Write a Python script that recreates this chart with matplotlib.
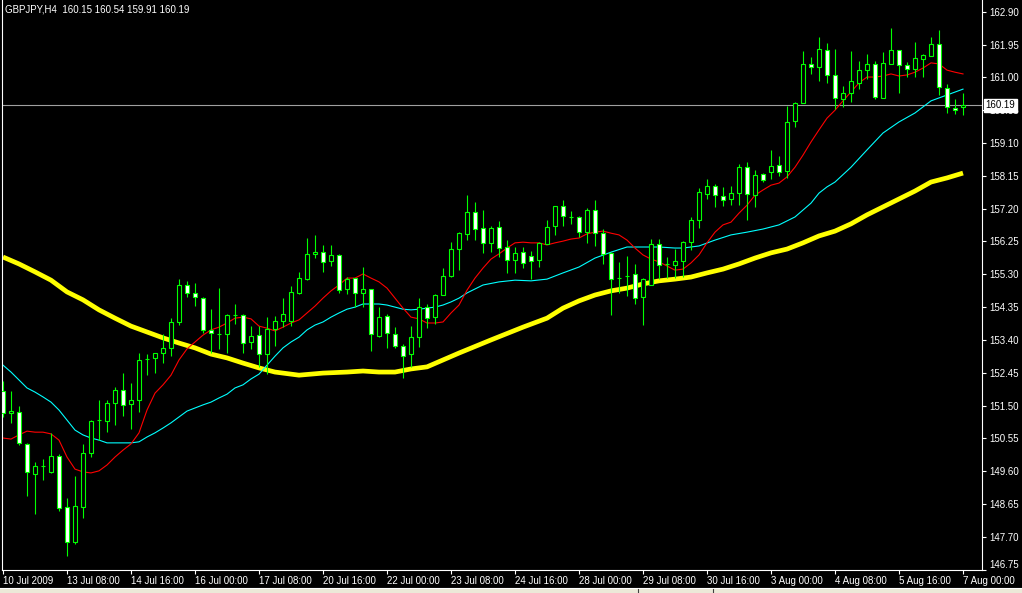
import matplotlib
matplotlib.use('Agg')
import matplotlib.pyplot as plt
from matplotlib.patches import Rectangle

plt.rcParams['font.family'] = ['Liberation Sans', 'DejaVu Sans']

# GBPJPY H4 candles (bar 0 = 10 Jul 2009)
opens = [151.92, 151.28, 151.31, 150.39, 149.52, 149.75, 149.58, 150.04, 148.56, 147.55,
         148.56, 150.13, 151.08, 151.05, 151.57, 151.95, 151.55, 151.66, 152.85, 152.88,
         153.02, 153.17, 153.92, 154.99, 154.76, 154.61, 153.69, 153.57, 153.57, 154.12,
         154.12, 153.34, 153.54, 152.99, 153.72, 153.95, 153.95, 154.76, 155.16, 155.89,
         155.94, 155.68, 155.86, 154.87, 155.19, 154.76, 154.87, 153.51, 154.09, 153.57,
         153.22, 152.99, 153.48, 154.35, 154.06, 154.70, 155.25, 156.03, 156.47, 157.10,
         156.64, 156.21, 156.67, 156.09, 155.71, 155.94, 155.83, 155.71, 156.18, 156.70,
         157.28, 156.96, 156.96, 156.52, 157.16, 156.49, 155.92, 155.19, 155.25, 155.31,
         154.64, 154.99, 156.18, 155.60, 155.57, 155.68, 156.23, 156.87, 157.62, 157.86,
         157.57, 157.48, 157.65, 158.40, 157.59, 158.20, 158.26, 158.46, 158.29, 159.74,
         160.26, 161.39, 161.30, 161.79, 161.07, 160.37, 160.55, 160.84, 161.21, 161.39,
         160.40, 161.39, 161.79, 161.36, 161.24, 161.53, 161.62, 161.97, 160.69, 160.11,
         160.15]
highs = [152.21, 151.92, 151.49, 150.42, 149.87, 149.95, 150.71, 150.10, 148.82, 149.46,
         150.39, 151.08, 151.66, 151.66, 152.04, 152.44, 152.15, 153.02, 152.99, 153.03,
         153.57, 154.03, 155.16, 155.11, 155.05, 154.64, 154.29, 154.90, 154.15, 154.44,
         154.15, 153.80, 153.80, 154.06, 154.09, 154.61, 154.96, 155.37, 156.35, 156.44,
         156.15, 156.15, 155.89, 155.22, 155.20, 155.51, 154.88, 154.35, 154.15, 153.77,
         153.28, 153.80, 154.61, 154.44, 154.73, 155.48, 156.23, 156.52, 157.59, 157.39,
         157.16, 156.70, 156.84, 156.29, 156.09, 156.09, 155.97, 156.23, 156.87, 157.28,
         157.45, 157.13, 156.99, 157.22, 157.45, 156.61, 155.94, 155.66, 155.83, 155.60,
         155.19, 156.32, 156.32, 155.80, 156.03, 156.26, 156.96, 157.80, 158.06, 157.91,
         157.83, 157.86, 158.49, 158.55, 158.32, 158.23, 158.90, 158.72, 160.17, 160.29,
         161.76, 161.59, 162.17, 161.99, 161.82, 160.75, 161.76, 161.47, 161.68, 161.47,
         161.73, 162.43, 161.80, 161.44, 162.02, 161.68, 162.17, 162.37, 160.81, 160.37,
         160.54]
lows = [151.17, 151.00, 150.36, 148.88, 148.36, 149.35, 149.56, 148.45, 147.15, 147.49,
        148.25, 150.01, 150.50, 150.73, 150.94, 151.20, 150.82, 151.31, 152.38, 152.44,
        152.73, 152.93, 153.83, 154.64, 154.38, 153.60, 153.02, 153.14, 153.02, 153.86,
        153.02, 153.14, 152.62, 152.41, 153.22, 153.77, 153.80, 154.74, 155.13, 155.77,
        155.37, 155.54, 154.76, 154.73, 154.35, 154.35, 153.08, 153.48, 153.17, 153.17,
        152.30, 152.62, 153.19, 153.74, 153.86, 154.69, 155.22, 155.42, 156.29, 156.29,
        155.92, 155.94, 155.80, 155.34, 155.34, 155.48, 155.16, 155.51, 156.17, 156.44,
        156.70, 156.76, 156.38, 156.21, 156.12, 155.60, 154.12, 154.76, 154.67, 154.44,
        153.83, 154.98, 155.16, 155.19, 155.19, 155.22, 156.00, 156.64, 157.48, 157.25,
        157.28, 157.30, 157.30, 156.87, 157.25, 157.97, 158.06, 158.14, 158.09, 159.56,
        160.25, 161.10, 160.89, 160.84, 160.08, 160.14, 160.29, 160.66, 160.95, 160.37,
        160.39, 161.38, 160.55, 161.01, 161.01, 161.01, 161.61, 160.49, 159.97, 159.94,
        159.91]
closes = [151.28, 151.34, 150.42, 149.58, 149.75, 149.76, 150.04, 148.53, 147.55, 148.59,
          150.13, 151.06, 151.07, 151.57, 151.95, 151.52, 151.66, 152.82, 152.86, 153.02,
          153.17, 153.92, 154.99, 154.76, 154.64, 153.69, 153.60, 153.58, 154.12, 154.13,
          153.31, 153.51, 152.99, 153.72, 153.95, 154.15, 154.79, 155.19, 155.89, 155.94,
          155.66, 155.86, 154.84, 155.16, 154.76, 154.87, 153.57, 154.06, 153.60, 153.22,
          152.93, 153.48, 154.35, 154.03, 154.70, 155.25, 156.03, 156.49, 157.10, 156.61,
          156.21, 156.64, 156.06, 155.71, 155.92, 155.63, 155.68, 156.21, 156.67, 157.27,
          156.99, 156.97, 156.52, 157.16, 156.49, 155.89, 155.16, 155.18, 155.24, 154.61,
          155.16, 156.18, 155.57, 155.61, 155.68, 156.23, 156.87, 157.68, 157.86, 157.59,
          157.45, 157.65, 158.40, 157.62, 158.17, 158.03, 158.43, 158.26, 159.71, 160.26,
          161.39, 161.30, 161.82, 161.07, 160.40, 160.55, 160.89, 161.21, 161.39, 160.43,
          161.42, 161.79, 161.36, 161.24, 161.56, 161.65, 161.97, 160.72, 160.14, 160.05,
          160.19]

# red moving average, one value per bar
ma_red = [150.56, 150.53, 150.65, 150.76, 150.73, 150.73, 150.68, 150.50, 150.01, 149.66,
          149.58, 149.55, 149.61, 149.78, 150.01, 150.21, 150.39, 150.71, 151.37, 151.86,
          152.10, 152.38, 152.82, 153.14, 153.34, 153.54, 153.69, 153.77, 153.89, 154.03,
          154.06, 154.01, 153.80, 153.74, 153.66, 153.77, 153.89, 153.98, 154.18, 154.38,
          154.61, 154.82, 154.99, 155.19, 155.19, 155.31, 155.19, 155.08, 154.90, 154.61,
          154.32, 154.06, 154.01, 153.89, 153.89, 153.92, 154.18, 154.41, 154.84, 155.19,
          155.48, 155.74, 155.89, 156.06, 156.21, 156.23, 156.21, 156.21, 156.15, 156.21,
          156.26, 156.32, 156.35, 156.47, 156.52, 156.55, 156.49, 156.44, 156.29, 156.06,
          155.86, 155.74, 155.66, 155.54, 155.42, 155.45, 155.63, 155.86, 156.21, 156.52,
          156.73, 156.81, 157.07, 157.30, 157.59, 157.74, 157.88, 157.94, 158.12, 158.40,
          158.75, 159.13, 159.48, 159.82, 160.05, 160.32, 160.58, 160.84, 161.01, 161.01,
          161.04, 161.10, 161.04, 161.07, 161.15, 161.27, 161.42, 161.39, 161.21, 161.15,
          161.10]

# cyan moving average, read at these bars
cyan_bars = list(range(0, 59)) + [60, 62, 64, 66, 68, 70, 72, 74, 76, 78, 80, 82, 84, 85,
                                  87, 89, 91, 93, 95, 97, 99, 101, 102, 103, 104, 106, 108,
                                  110, 112, 114, 116, 118, 120]
ma_cyan = [152.67, 152.47, 152.24, 152.01, 151.89, 151.75, 151.60, 151.37, 151.08, 150.79,
           150.65, 150.56, 150.50, 150.42, 150.42, 150.42, 150.42, 150.45, 150.59, 150.71,
           150.85, 151.00, 151.17, 151.34, 151.43, 151.52, 151.60, 151.72, 151.83, 152.01,
           152.10, 152.27, 152.41, 152.67, 152.93, 153.17, 153.34, 153.48, 153.69, 153.83,
           153.92, 154.06, 154.18, 154.29, 154.35, 154.44, 154.44, 154.44, 154.41, 154.35,
           154.29, 154.27, 154.29, 154.32, 154.35, 154.41, 154.50, 154.61, 154.76,
           154.99, 155.08, 155.13, 155.11, 155.16, 155.34, 155.51, 155.77, 155.94, 156.09,
           156.09, 156.09, 156.06, 156.06, 156.12, 156.29, 156.44, 156.52, 156.61, 156.73,
           156.96, 157.36, 157.65, 157.83, 157.97, 158.40, 158.90, 159.39, 159.71, 159.97,
           160.32, 160.49, 160.66]

# yellow (slow) moving average, read at these bars
yellow_bars = [0, 2, 4, 6, 8, 10, 12, 14, 16, 18, 20, 22, 24, 26, 28, 30, 32, 34, 37, 40,
               43, 45, 47, 49, 51, 53, 55, 57, 61, 65, 68, 70, 72, 74, 76, 78, 80, 82, 84,
               86, 88, 90, 92, 94, 96, 98, 100, 102, 104, 106, 108, 110, 112, 114, 116,
               118, 120]
ma_yellow = [155.80, 155.60, 155.37, 155.13, 154.79, 154.56, 154.27, 154.03, 153.80, 153.63,
             153.46, 153.31, 153.17, 152.99, 152.88, 152.73, 152.59, 152.47, 152.38, 152.44,
             152.47, 152.50, 152.47, 152.47, 152.56, 152.62, 152.82, 153.02, 153.40, 153.77,
             154.03, 154.32, 154.53, 154.70, 154.82, 154.90, 155.02, 155.11, 155.16, 155.22,
             155.34, 155.45, 155.60, 155.77, 155.92, 156.03, 156.21, 156.41, 156.55, 156.76,
             157.02, 157.25, 157.48, 157.71, 157.97, 158.09, 158.23]

price_ticks = ['162.90', '161.95', '161.00', '160.05', '159.10', '158.15', '157.20', '156.25',
               '155.30', '154.35', '153.40', '152.45', '151.50', '150.55', '149.60', '148.65',
               '147.70', '146.75']
time_labels = ['10 Jul 2009', '13 Jul 08:00', '14 Jul 16:00', '16 Jul 00:00', '17 Jul 08:00',
               '20 Jul 16:00', '22 Jul 00:00', '23 Jul 08:00', '24 Jul 16:00', '28 Jul 00:00',
               '29 Jul 08:00', '30 Jul 16:00', '3 Aug 00:00', '4 Aug 08:00', '5 Aug 16:00',
               '7 Aug 00:00']
last_price = 160.19

W, H = 1022, 593
fig = plt.figure(figsize=(W / 100, H / 100), dpi=100, facecolor='black')
ax = fig.add_axes([2 / W, 23 / H, 980 / W, 570 / H])
ax.set_facecolor('black')

n = len(opens)
xs = list(range(n))
green = '#00ff00'

# wicks then bodies
ax.vlines(xs, lows, highs, color=green, linewidth=0.8, zorder=3)
for i in xs:
    o, c = opens[i], closes[i]
    bottom = min(o, c)
    height = max(abs(c - o), 0.005)
    face = 'white' if c < o else 'black'
    ax.bar(i, height, bottom=bottom, width=0.6, facecolor=face, edgecolor=green,
           linewidth=0.8, zorder=4)

ax.plot(yellow_bars, ma_yellow, color='#ffff00', linewidth=3.4, zorder=2,
        solid_capstyle='butt')
ax.plot(cyan_bars, ma_cyan, color='#00ffff', linewidth=0.8, zorder=2)
ax.plot(xs, ma_red, color='#ff0000', linewidth=0.8, zorder=2)

# current price line
ax.axhline(last_price, color='#a0a0a0', linewidth=0.8, zorder=1)

ax.set_xlim(-0.125, 122.375)
ax.set_ylim(146.74, 163.24)

for side in ['top']:
    ax.spines[side].set_visible(False)
for side in ['left', 'right', 'bottom']:
    ax.spines[side].set_color('white')
    ax.spines[side].set_linewidth(0.8)

ax.yaxis.tick_right()
ax.set_yticks([float(t) for t in price_ticks])
ax.set_yticklabels(price_ticks)
ax.tick_params(axis='y', colors='white', labelsize=7, length=3, width=0.8, pad=2)
ylabels = ax.get_yticklabels()
ylabels[-1].set_verticalalignment('bottom')

ax.set_xticks(list(range(0, n, 8)))
ax.set_xticklabels(time_labels, ha='left')
ax.tick_params(axis='x', colors='white', labelsize=7, length=3, width=0.8, pad=1)

# price tag on the right axis
ax.text(1.0035, last_price, f'{last_price:.2f}', transform=ax.get_yaxis_transform(),
        ha='left', va='center', fontsize=7, color='black', zorder=10,
        bbox=dict(boxstyle='square,pad=0.15', facecolor='white', edgecolor='white'),
        clip_on=False)

# header
fig.text(5 / W, 1 - 9 / H, 'GBPJPY,H4  160.15 160.54 159.91 160.19', color='white',
         fontsize=7, va='center', ha='left')

# window status strip at the bottom
fig.patches.append(Rectangle((0, 0), 1, 5 / H, transform=fig.transFigure,
                             facecolor='#ece9d8', edgecolor='none'))
fig.lines.append(plt.Line2D([0, 1], [5 / H, 5 / H], transform=fig.transFigure,
                            color='white', linewidth=0.8))
fig.lines.append(plt.Line2D([638 / W, 638 / W], [0, 4 / H], transform=fig.transFigure,
                            color='#404040', linewidth=0.8))
fig.lines.append(plt.Line2D([713 / W, 713 / W], [0, 4 / H], transform=fig.transFigure,
                            color='#404040', linewidth=0.8))

fig.savefig('out.png', dpi=100, facecolor='black')
